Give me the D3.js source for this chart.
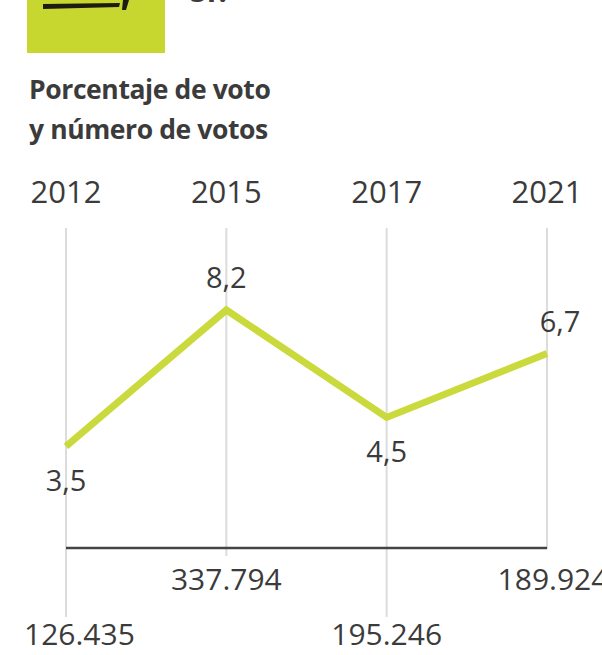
<!DOCTYPE html>
<html lang="es">
<head>
<meta charset="UTF-8">
<title>Porcentaje de voto y número de votos</title>
<script src="https://d3js.org/d3.v7.min.js"></script>
<style>
    body { margin: 0; background: #fff; }
    text { font-family: "Open Sans", "Noto Sans", sans-serif; fill: #3b3b3b; }
</style>
</head>
<body>
<div id="chart"></div>
<script>
    const years = ["2012", "2015", "2017", "2021"];
    const pct = [3.5, 8.2, 4.5, 6.7];
    const votes = [126435, 337794, 195246, 189924];
    const pctSide = ["below", "above", "below", "above"];

    const width = 602, height = 655;
    const lime = "#cad93c";

    const es = d3.formatLocale({ decimal: ",", thousands: ".", grouping: [3], currency: ["", "€"] });
    const fmtPct = es.format(".1f");
    const fmtVotes = es.format(",d");

    const svg = d3.select("#chart").append("svg")
        .attr("width", width)
        .attr("height", height);

    // cabecera recortada (logo + texto)
    svg.append("rect").attr("x", 27).attr("y", 0).attr("width", 138).attr("height", 53).attr("fill", "#c8d630");
    svg.append("path").attr("d", "M43,9 L119,7 L120,3 L43,4 Z M123,0 L129,0 L126,10 L122,10 Z").attr("fill", "#1c1c10");
    svg.append("text").attr("x", 190).attr("y", 2).style("font-size", "30px").style("font-weight", 700).text("SÍ?");

    svg.append("text").attr("x", 29).attr("y", 99)
        .style("font-size", "26.5px").style("font-weight", 700).style("letter-spacing", "-0.4px")
        .text("Porcentaje de voto");
    svg.append("text").attr("x", 29).attr("y", 139)
        .style("font-size", "26.5px").style("font-weight", 700).style("letter-spacing", "-0.4px")
        .text("y número de votos");

    const x = d3.scalePoint().domain(years).range([66, 547]);
    const y = d3.scaleLinear().domain([0, 8.2]).range([548, 310]);

    // líneas verticales
    const gridEnd = [617, 556, 617, 549];
    svg.append("g").selectAll("line")
        .data(years)
        .join("line")
        .attr("x1", d => x(d)).attr("x2", d => x(d))
        .attr("y1", 228).attr("y2", (d, i) => gridEnd[i])
        .attr("stroke", "#dcdcdc")
        .attr("stroke-width", 2);

    // años
    svg.append("g").selectAll("text")
        .data(years)
        .join("text")
        .attr("x", d => x(d))
        .attr("y", 203)
        .attr("text-anchor", "middle")
        .style("font-size", "31px")
        .text(d => d);

    // eje horizontal
    svg.append("line")
        .attr("x1", x(years[0])).attr("x2", x(years[years.length - 1]))
        .attr("y1", y(0)).attr("y2", y(0))
        .attr("stroke", "#444")
        .attr("stroke-width", 2.5);

    // línea de porcentaje
    const line = d3.line()
        .x((d, i) => x(years[i]))
        .y(d => y(d));

    svg.append("path")
        .datum(pct)
        .attr("d", line)
        .attr("fill", "none")
        .attr("stroke", lime)
        .attr("stroke-width", 7)
        .attr("stroke-linejoin", "miter");

    svg.append("g").selectAll("text")
        .data(pct)
        .join("text")
        .attr("x", (d, i) => x(years[i]) + (i === years.length - 1 ? 13 : 0))
        .attr("y", (d, i) => y(d) + (pctSide[i] === "above" ? -22 : 45))
        .attr("text-anchor", "middle")
        .style("font-size", "29px")
        .text(d => fmtPct(d));

    // número de votos, alternando filas
    const voteLabels = svg.append("g").selectAll("text")
        .data(votes)
        .join("text")
        .attr("x", (d, i) => x(years[i]) + (i === years.length - 1 ? 6 : 0))
        .attr("y", (d, i) => i % 2 ? 590 : 645)
        .attr("text-anchor", "middle")
        .style("font-size", "30px")
        .text(d => fmtVotes(d));

    voteLabels.each(function () {
        const b = this.getBBox();
        if (b.x < 24) d3.select(this).attr("text-anchor", "start").attr("x", 24);
    });
</script>
</body>
</html>
